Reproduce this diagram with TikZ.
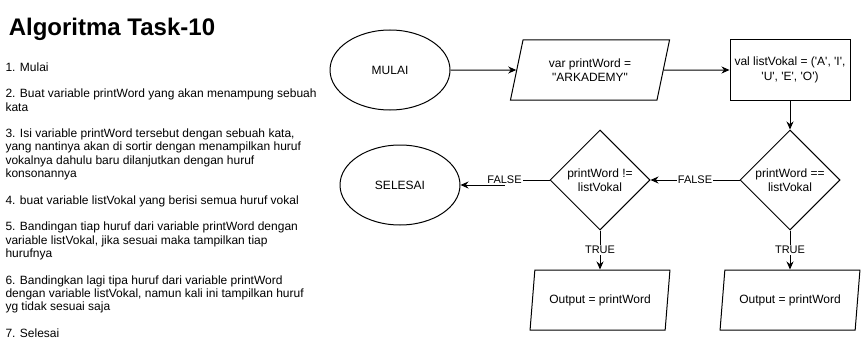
\documentclass[tikz,border=0pt]{standalone}
\usepackage{fontspec}
\setmainfont{Liberation Sans}[Ligatures=TeXOff]
\usetikzlibrary{shapes.geometric,arrows.meta}

\begin{document}
\begin{tikzpicture}[x=1pt, y=-1pt, line width=1pt,
    >={Stealth[length=8pt,width=7pt]},
    font=\fontsize{12}{14.4}\selectfont,
    terminal/.style={draw, ellipse, minimum width=120pt, minimum height=80pt, inner sep=0pt},
    io/.style={draw, trapezium, trapezium left angle=71.57, trapezium right angle=108.43,
        trapezium stretches=true, minimum height=60pt, inner sep=0pt, align=center},
    proses/.style={draw, rectangle, minimum width=120pt, minimum height=60pt, inner sep=0pt, align=center},
    cabang/.style={draw, diamond, minimum width=100pt, minimum height=100pt, inner sep=0pt, align=center},
    ket/.style={font=\fontsize{11}{13}\selectfont, fill=white, inner sep=1pt}]
    \useasboundingbox (0,0) rectangle (861,361);

    \node[anchor=base west, font=\bfseries\fontsize{24}{28}\selectfont] (judul) at (5,36) {Algoritma Task-10};
    \node[anchor=north west, align=left, inner sep=0pt, font=\fontsize{12}{13.3}\selectfont] (langkah) at (5,62) {%
        1. Mulai\\[13.3pt]
        2. Buat variable printWord yang akan menampung sebuah\\
        kata\\[13.3pt]
        3. Isi variable printWord tersebut dengan sebuah kata,\\
        yang nantinya akan di sortir dengan menampilkan huruf\\
        vokalnya dahulu baru dilanjutkan dengan huruf\\
        konsonannya\\[13.3pt]
        4. buat variable listVokal yang berisi semua huruf vokal\\[13.3pt]
        5. Bandingan tiap huruf dari variable printWord dengan\\
        variable listVokal, jika sesuai maka tampilkan tiap\\
        hurufnya\\[13.3pt]
        6. Bandingkan lagi tipa huruf dari variable printWord\\
        dengan variable listVokal, namun kali ini tampilkan huruf\\
        yg tidak sesuai saja\\[13.3pt]
        7. Selesai};

    \node[terminal] (mulai) at (390,70) {MULAI};
    \node[io, minimum width=160pt] (kata) at (590,70) {var printWord =\\"ARKADEMY"};
    \node[proses] (vokal) at (790,70) {val listVokal = ('A', 'I',\\'U', 'E', 'O')};
    \node[cabang] (cek) at (790,180) {printWord ==\\listVokal};
    \node[cabang] (beda) at (600,180) {printWord !=\\listVokal};
    \node[terminal] (selesai) at (400,185) {SELESAI};
    \node[io, minimum width=140pt] (out1) at (600,300) {Output = printWord};
    \node[io, minimum width=140pt] (out2) at (790,300) {Output = printWord};

    \draw[->] (mulai) -- (kata);
    \draw[->] (kata) -- (vokal);
    \draw[->] (vokal) -- (cek);
    \draw[->] (cek) -- node[ket]{FALSE} (beda);
    \draw[->] (beda.west) -- ++(-45,0) node[ket]{FALSE} |- (selesai.east);
    \draw[->] (cek) -- node[ket]{TRUE} (out2);
    \draw[->] (beda) -- node[ket]{TRUE} (out1);
\end{tikzpicture}
\end{document}
